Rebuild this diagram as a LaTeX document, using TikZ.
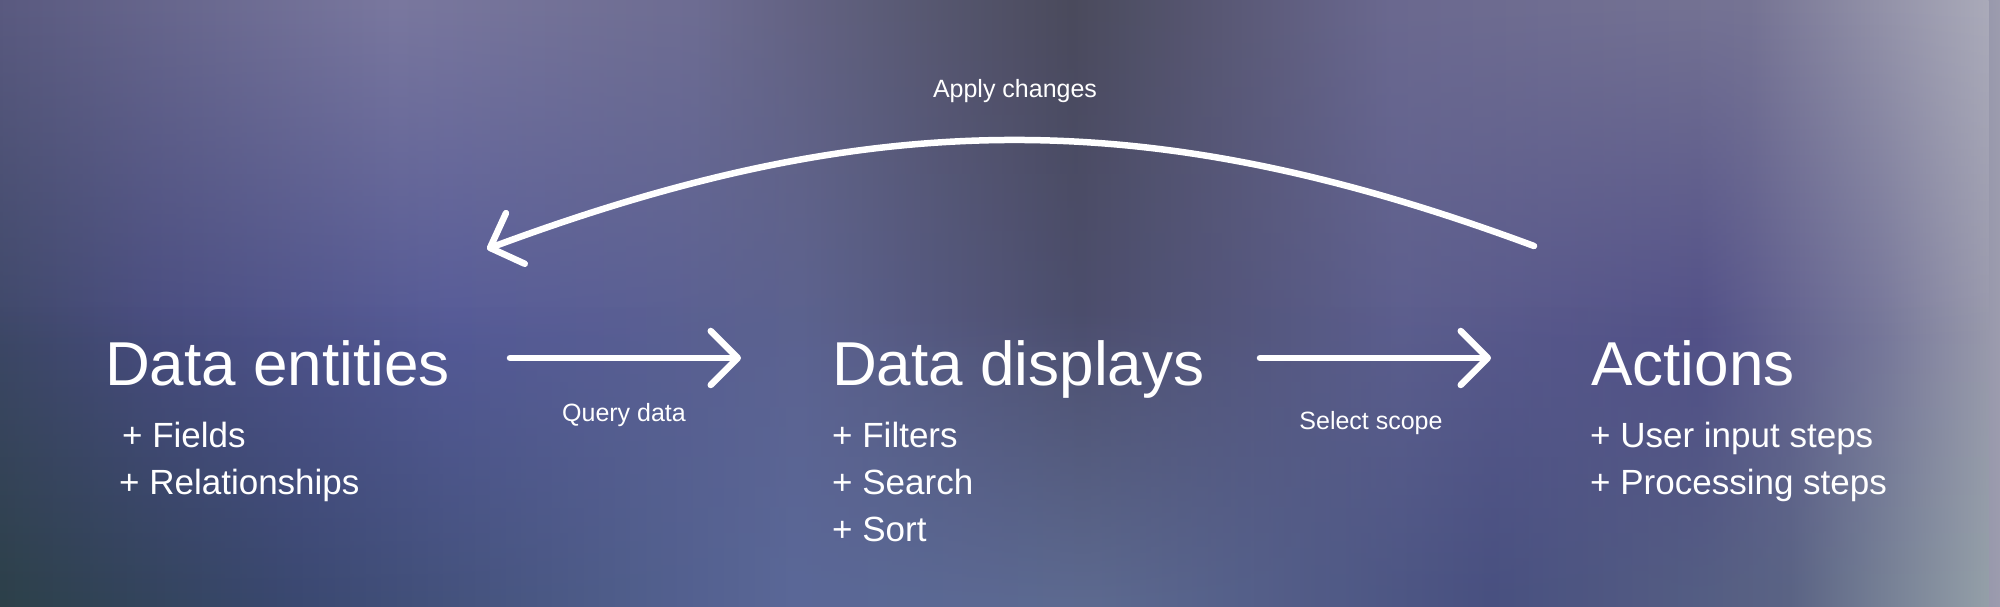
\documentclass[tikz,border=0pt]{standalone}
\usepackage{fontspec}
\setmainfont{Liberation Sans}
\usetikzlibrary{arrows.meta,fadings}
% background colours
\definecolor{m0}{HTML}{3E4869}\definecolor{m1}{HTML}{484C80}\definecolor{m2}{HTML}{555A98}
\definecolor{m3}{HTML}{5C6290}\definecolor{m4}{HTML}{4C4E6E}\definecolor{m5}{HTML}{5C5E8E}
\definecolor{m6}{HTML}{514F88}\definecolor{m7}{HTML}{76769A}\definecolor{m8}{HTML}{9C9CAE}
\definecolor{u0}{HTML}{5A5A80}\definecolor{u1}{HTML}{7A789F}\definecolor{u2}{HTML}{6E6D92}
\definecolor{u3}{HTML}{4A4A5C}\definecolor{u4}{HTML}{6B6990}\definecolor{u5}{HTML}{767494}
\definecolor{u6}{HTML}{ABABBA}
\definecolor{b0}{HTML}{2C4048}\definecolor{b1}{HTML}{3A4870}\definecolor{b2}{HTML}{5A6898}
\definecolor{b3}{HTML}{5D6A90}\definecolor{b4}{HTML}{485080}\definecolor{b5}{HTML}{5A6484}
\definecolor{b6}{HTML}{94A0A8}
\pgfdeclarehorizontalshading{midrow}{100bp}{color(0bp)=(m0); color(25bp)=(m0); color(28.75bp)=(m1); color(36.25bp)=(m2); color(45bp)=(m3); color(52bp)=(m4); color(60bp)=(m5); color(67.5bp)=(m6); color(72bp)=(m7); color(75bp)=(m8); color(100bp)=(m8)}
\pgfdeclarehorizontalshading{toprow}{100bp}{color(0bp)=(u0); color(25bp)=(u0); color(35bp)=(u1); color(42.5bp)=(u2); color(52bp)=(u3); color(60bp)=(u4); color(69bp)=(u5); color(75bp)=(u6); color(100bp)=(u6)}
\pgfdeclarehorizontalshading{botrow}{100bp}{color(0bp)=(b0); color(25bp)=(b0); color(32.5bp)=(b1); color(45bp)=(b2); color(52.5bp)=(b3); color(62.5bp)=(b4); color(70bp)=(b5); color(75bp)=(b6); color(100bp)=(b6)}
\tikzfading[name=fadetop, top color=transparent!0, bottom color=transparent!100]
\tikzfading[name=fadebot, top color=transparent!100, bottom color=transparent!0]
\tikzset{
  ttl/.style={font=\fontsize{62}{70}\selectfont, text=white, anchor=base west, inner sep=0pt},
  itm/.style={font=\fontsize{35}{40}\selectfont, text=white, anchor=base west, inner sep=0pt},
  lbl/.style={font=\fontsize{25}{30}\selectfont, text=white, anchor=base, inner sep=0pt},
  conn/.style={draw=white, line width=6.5pt, line cap=round, line join=round,
    -{Straight Barb[length=27pt, width=54pt, round]}}
}
\begin{document}
\begin{tikzpicture}[x=1pt,y=1pt]
\useasboundingbox (0,0) rectangle (2000,607);
% background
\shade[shading=midrow] (0,0) rectangle (2000,607);
\shade[shading=toprow, path fading=fadetop] (0,260) rectangle (2000,607);
\shade[shading=botrow, path fading=fadebot] (0,0) rectangle (2000,300);
% texts
\node[ttl] (t1) at (105,221) {Data entities};
\node[itm] (t1a) at (122,159) {+ Fields};
\node[itm] (t1b) at (119,112) {+ Relationships};
\node[ttl] (t2) at (832,221) {Data displays};
\node[itm] (t2a) at (832,159) {+ Filters};
\node[itm] (t2b) at (832,112) {+ Search};
\node[itm] (t2c) at (832,65) {+ Sort};
\node[ttl] (t3) at (1591,221) {Actions};
\node[itm] (t3a) at (1590,159) {+ User input steps};
\node[itm] (t3b) at (1590,112) {+ Processing steps};
\node[lbl] (q) at (624,185) {Query data};
\node[lbl] (s) at (1371,177) {Select scope};
\node[lbl] (ap) at (1015,509) {Apply changes};
% connectors
\coordinate (a1s) at (510,249);
\coordinate (a1e) at (741,249);
\coordinate (a2s) at (1260,249);
\coordinate (a2e) at (1491,249);
\coordinate (cs) at (1534,361);
\coordinate (c1) at (1149,504);
\coordinate (c2) at (872,501);
\coordinate (ce) at (487,358);
\draw[conn] (a1s) -- (a1e);
\draw[conn] (a2s) -- (a2e);
\draw[conn] (cs) .. controls (c1) and (c2) .. (ce);
\end{tikzpicture}
\end{document}
